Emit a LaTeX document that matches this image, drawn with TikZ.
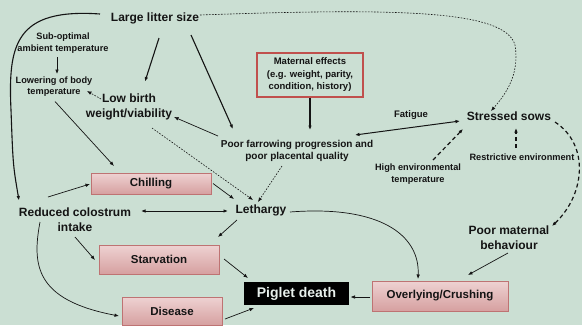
\documentclass[tikz,border=0pt]{standalone}
\usepackage{fontspec}
\setmainfont{Liberation Sans}
\usetikzlibrary{arrows.meta,calc}
\definecolor{bg}{RGB}{203,223,211}
\definecolor{boxtop}{RGB}{238,210,210}
\definecolor{boxbot}{RGB}{214,160,160}
\definecolor{boxborder}{RGB}{190,115,115}
\definecolor{matred}{RGB}{192,80,77}
\definecolor{ink}{RGB}{20,20,20}
\begin{document}
\begin{tikzpicture}[x=1pt,y=-1pt,
  arr/.style={-{Latex[length=4.5pt,width=3.6pt]}, line width=0.7pt, draw=ink},
  darr/.style={{Latex[length=4.5pt,width=3.6pt]}-{Latex[length=4.5pt,width=3.6pt]}, line width=1pt, draw=ink},
  tarr/.style={arr, line width=1.1pt},
  dotarr/.style={arr, line width=0.6pt, dash pattern=on 1.6pt off 1.4pt},
  dasharr/.style={arr, line width=1.2pt, dash pattern=on 4pt off 3pt},
  lbl/.style={font=\bfseries\fontsize{9.2}{11.5}\selectfont, align=center, inner sep=1pt, text=ink},
  big/.style={font=\bfseries\fontsize{12}{15}\selectfont, align=center, inner sep=1pt, text=ink},
  pbox/.style={draw=boxborder, top color=boxtop, bottom color=boxbot, line width=0.8pt,
    font=\bfseries\fontsize{11.5}{13}\selectfont, inner sep=0pt, text=ink},
  matbox/.style={draw=matred, line width=1.2pt, minimum width=106pt, minimum height=44pt,
    font=\bfseries\fontsize{9.5}{12.5}\selectfont, align=center, inner sep=0pt, text=ink},
]
\fill[bg] (0,0) rectangle (582,325);
\useasboundingbox (0,0) rectangle (582,325);

% nodes
\node[big] (lls) at (155,18) {Large litter size};
\node[lbl] (sub) at (63,43) {Sub-optimal\\ambient temperature};
\node[lbl] (low) at (54,86.5) {Lowering of body\\temperature};
\node[big] (lbw) at (129,106.5) {Low birth\\weight/viability};
\node[matbox] (mat) at (310,75) {Maternal effects\\(e.g. weight, parity,\\condition, history)};
\node[font=\bfseries\fontsize{10}{12.5}\selectfont, align=center, inner sep=1pt, text=ink] (pfp) at (297,151) {Poor farrowing progression and\\poor placental quality};
\node[lbl, font=\bfseries\fontsize{9.5}{11.5}\selectfont] (fat) at (411,115) {Fatigue};
\node[big] (ss) at (509,116) {Stressed sows};
\node[lbl] (het) at (418,174) {High environmental\\temperature};
\node[lbl] (re) at (522,157) {Restrictive environment};
\node[pbox, minimum width=120pt, minimum height=21pt] (chil) at (151,183.5) {Chilling};
\node[big] (rci) at (75,219.5) {Reduced colostrum\\intake};
\node[big] (leth) at (261,210) {Lethargy};
\node[pbox, minimum width=120pt, minimum height=29pt] (starv) at (159,259.5) {Starvation};
\node[pbox, minimum width=100pt, minimum height=28pt] (dis) at (172,311) {Disease};
\node[fill=black, text={rgb,255:red,232;green,240;blue,236}, font=\bfseries\fontsize{14}{16}\selectfont,
  minimum width=105pt, minimum height=23pt, inner sep=0pt] (pd) at (296.5,293.5) {Piglet death};
\node[pbox, minimum width=136pt, minimum height=30pt] (ov) at (440,296) {Overlying/Crushing};
\node[big] (pmb) at (509,237.5) {Poor maternal\\behaviour};

% connectors
\draw[tarr] ($(lls)+(-55,-4)$) .. controls (15,8) and (8,45) .. (11,110) .. controls (13,165) .. ($(rci)+(-56,-19)$);
\draw[tarr] ($(lls)+(4,20)$) -- ($(lbw)+(16,-25)$);
\draw[tarr] ($(lls)+(36,17)$) -- ($(pfp)+(-64,-22)$);
\draw[dotarr] ($(lls)+(45,-3)$) .. controls (400,8) and (505,10) .. (515,45) .. controls (520,75) and (505,95) .. ($(ss)+(-18,-5)$);
\draw[arr] ($(sub)+(-6,14)$) -- ($(low)+(3,-12.5)$);
\draw[arr] ($(low)+(1,15)$) -- ($(chil)+(-37,-17.5)$);
\draw[dotarr] ($(lbw)+(-28,-7.5)$) -- ($(low)+(33,4.5)$);
\draw[arr] ($(pfp)+(-79,-15)$) -- ($(lbw)+(45,10.5)$);
\draw[dotarr] ($(lbw)+(23,21.5)$) -- ($(leth)+(-8,-10)$);
\draw[tarr] (mat.south) -- ($(pfp)+(13,-21)$);
\draw[darr] ($(pfp)+(58,-16)$) -- ($(ss)+(-49,5)$);
\draw[dasharr] ($(het)+(15,-14)$) -- ($(ss)+(-46,13)$);
\draw[dasharr] ($(re)+(-6,-9)$) -- ($(ss)+(7,12)$);
\draw[dasharr] ($(ss)+(46,6)$) .. controls (590,145) and (585,195) .. ($(pmb)+(43,-11.5)$);
\draw[dotarr] ($(pfp)+(-15,15)$) -- ($(leth)+(-3,-8)$);
\draw[arr] ($(chil)+(62,0)$) -- ($(leth)+(-27,-11)$);
\draw[arr] ($(rci)+(-27,-22.5)$) -- ($(chil)+(-61,0.5)$);
\draw[darr] ($(rci)+(66,-8.5)$) -- ($(leth)+(-33,1)$);
\draw[arr] ($(leth)+(-24,10)$) -- ($(starv)+(59,-22.5)$);
\draw[arr] ($(rci)+(0,17.5)$) -- ($(starv)+(-64,0.5)$);
\draw[arr] ($(rci)+(-35,2.5)$) .. controls (32,265) and (35,300) .. ($(dis)+(-53,5)$);
\draw[arr] ($(starv)+(65,-0.5)$) -- ($(pd)+(-48.5,-15.5)$);
\draw[arr] ($(dis)+(53,8)$) -- ($(pd)+(-42.5,14.5)$);
\draw[arr] ($(ov)+(-70,1)$) -- ($(pd)+(54,3.5)$);
\draw[arr] ($(leth)+(29,2)$) .. controls (380,205) and (420,235) .. ($(ov)+(-22,-17)$);
\draw[arr] ($(pmb)+(-1,15.5)$) -- ($(ov)+(28,-21)$);
\end{tikzpicture}
\end{document}
